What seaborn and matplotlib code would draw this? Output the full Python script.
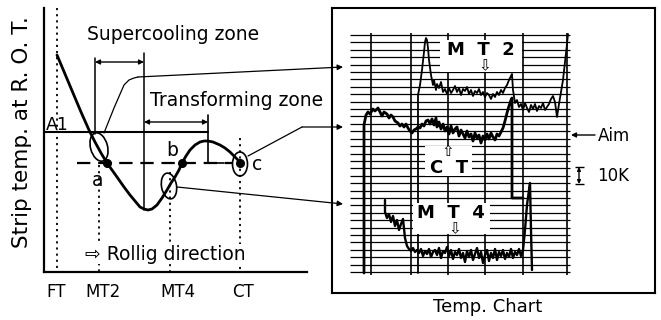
import numpy as np
import pandas as pd
import matplotlib
matplotlib.use("Agg")
import matplotlib.pyplot as plt
import seaborn as sns
from matplotlib.patches import Ellipse, Rectangle

# ------------------------------------------------------------------ data
# left schematic (units: horizontal = position along run-out table,
# vertical = drawing units, larger = lower temperature)
stations = ["FT", "MT2", "MT4", "CT"]
station_label_x = [56, 103, 178, 243]
station_line_x = [57, 99, 170, 240]
station_line_top = [8, 165, 172, 138]

curve_x = [57, 65, 73, 81, 89, 95, 101, 107, 112, 117, 124, 130, 135, 140, 144, 148,
           152, 157, 162, 167, 171, 175, 179, 182, 186, 190, 195, 200, 204, 208, 213,
           220, 225, 230, 235, 240]
curve_y = [55, 74, 93, 112, 130, 142, 153, 163, 170, 177, 187, 195, 201, 207, 209, 210,
           209, 205, 198, 190, 183, 177, 170, 163, 156, 150, 145, 142, 141, 141, 142,
           145, 148, 152, 157, 162]

point_names = ["a", "b", "c"]
point_x = [107, 182, 240]
point_y = [163, 163, 163]
a1_level = 132
aim_level = 163

# right: temperature chart traces
ct_x = [364, 364, 366, 368, 370, 373, 375, 378, 380, 382, 384, 387, 389, 391, 393, 395,
        398, 400, 402, 404, 406, 408, 410, 412, 414, 416, 418, 420, 422, 424, 426, 428,
        430, 432, 434, 436, 437, 439, 441, 443, 445, 447, 449, 451, 453, 455, 457, 459,
        461, 463, 465, 467, 469, 471, 473, 475, 477, 479, 481, 483, 485, 487, 489, 491,
        493, 495, 497, 499, 501, 503, 505, 507, 509, 511, 512, 512, 517, 523]
ct_y = [273, 125, 115, 112, 114, 109, 111, 108, 112, 116, 112, 114, 118, 115, 117, 121,
        123, 126, 124, 127, 124, 128, 131, 133, 130, 129, 127, 128, 124, 126, 121, 120,
        124, 119, 125, 118, 127, 122, 129, 124, 131, 127, 134, 126, 133, 129, 127, 136,
        130, 134, 138, 131, 137, 134, 141, 133, 138, 135, 143, 136, 140, 134, 139, 133,
        137, 140, 134, 136, 132, 128, 121, 113, 106, 100, 98, 198, 198, 198]

mt2_x = [418, 418, 420, 422, 424, 425, 426, 427, 428, 429, 431, 433, 434, 436, 437, 439,
         441, 443, 445, 447, 449, 451, 453, 455, 457, 459, 461, 463, 465, 467, 469, 471,
         473, 475, 477, 479, 481, 483, 485, 487, 489, 491, 493, 495, 497, 499, 501, 503,
         505, 507, 509, 511, 512, 513, 515, 517, 519, 521, 523, 525, 527, 529, 531, 533,
         535, 537, 539, 541, 543, 545, 547, 549, 551, 553, 555, 557, 559, 561, 563, 565,
         567, 568]
mt2_y = [273, 95, 85, 70, 52, 42, 38, 40, 48, 60, 75, 85, 80, 90, 84, 88,
         82, 92, 89, 94, 88, 93, 90, 86, 92, 88, 95, 89, 91, 87, 94, 90,
         96, 91, 93, 89, 95, 92, 97, 93, 95, 99, 94, 97, 92, 95, 90, 93,
         88, 85, 80, 76, 74, 90, 103, 100, 107, 104, 110, 103, 108, 112, 105, 109,
         104, 111, 106, 108, 103, 110, 107, 104, 99, 96, 102, 117, 104, 92, 80, 62,
         44, 34]

mt4_x = [385, 385, 387, 389, 391, 393, 395, 397, 399, 401, 403, 405, 407, 409, 411, 413,
         415, 417, 419, 421, 423, 425, 427, 429, 431, 433, 435, 437, 439, 441, 443, 445,
         447, 449, 451, 453, 455, 457, 459, 461, 463, 465, 467, 469, 471, 473, 475, 477,
         479, 481, 483, 485, 487, 489, 491, 493, 495, 497, 499, 501, 503, 505, 507, 509,
         511, 513, 515, 517, 519, 521, 523, 525, 527, 529, 530, 531, 532]
mt4_y = [200, 212, 218, 214, 222, 216, 226, 220, 230, 224, 219, 238, 246, 249, 251, 248,
         252, 250, 253, 249, 256, 251, 254, 249, 257, 252, 250, 255, 248, 258, 251, 253,
         247, 256, 250, 259, 252, 255, 249, 258, 253, 262, 251, 257, 250, 260, 254, 248,
         258, 252, 263, 255, 250, 261, 253, 258, 249, 260, 252, 256, 250, 259, 253, 257,
         249, 258, 252, 255, 249, 256, 250, 230, 205, 190, 183, 230, 270]

chart_grid_cols = [371, 411, 448, 485, 523, 567]
chart_grid_rows = 33   # number of horizontal recorder lines

assert len(ct_x) == len(ct_y)
assert len(mt2_x) == len(mt2_y)
assert len(mt4_x) == len(mt4_y)

# ------------------------------------------------------------------ style
sns.set_theme(style="white")
plt.rcParams["font.family"] = ["DejaVu Sans"]
K = "black"

W, H = 661, 320
fig = plt.figure(figsize=(W / 100, H / 100), dpi=100)
fig.patch.set_facecolor("white")


def rect(x0, y0, x1, y1):
    return [x0 / W, 1 - y1 / H, (x1 - x0) / W, (y1 - y0) / H]


# ------------------------------------------------------------------ left panel
ax1 = fig.add_axes(rect(44, 8, 307, 272))
ax1.set_xlim(44, 307)
ax1.set_ylim(272, 8)
ax1.set_facecolor("none")
for s in ["top", "right"]:
    ax1.spines[s].set_visible(False)
for s in ["left", "bottom"]:
    ax1.spines[s].set_color(K)
    ax1.spines[s].set_linewidth(1.6)
ax1.set_yticks([])
ax1.set_xticks(station_label_x)
ax1.set_xticklabels(stations, fontsize=12)
ax1.tick_params(axis="x", length=0, pad=8, colors=K)
ax1.set_ylabel("Strip temp. at R. O. T.", fontsize=15.5, color=K)
ax1.yaxis.set_label_coords(-0.045, 0.53)

# station dotted lines
for x, top in zip(station_line_x, station_line_top):
    ax1.plot([x, x], [top, 272], ls=(0, (1.2, 2.2)), lw=1.3, color=K)

# A1 line and zone brackets
ax1.plot([44, 208], [a1_level, a1_level], lw=1.5, color=K)
ax1.plot([208, 208, 224], [115, aim_level, aim_level], lw=1.2, color=K)
ax1.plot([77, 232], [aim_level, aim_level], ls=(0, (6, 3.5)), lw=1.6, color=K)
ax1.plot([95, 95], [58, 134], lw=1.1, color=K)
ax1.plot([144, 144], [53, 210], lw=1.1, color=K)
arr = dict(arrowstyle="<|-|>", color=K, lw=1.0, mutation_scale=7, shrinkA=0, shrinkB=0)
ax1.annotate("", xy=(144, 62), xytext=(95, 62), arrowprops=arr)
ax1.annotate("", xy=(208, 122), xytext=(144, 122), arrowprops=arr)

# temperature curve
sns.lineplot(x=curve_x, y=curve_y, sort=False, estimator=None, ax=ax1,
             color=K, lw=2.0)
ax1.plot(point_x, point_y, "o", color=K, ms=5.5)

# ellipses
for (cx, cy, w, h, ang) in [(99, 147, 17, 29, -15), (169, 186, 15, 26, -10), (240, 164, 15, 24, 0)]:
    ax1.add_patch(Ellipse((cx, cy), w, h, angle=ang, fill=False, ec=K, lw=1.2))

# texts
ax1.text(173, 35, "Supercooling zone", ha="center", va="center", fontsize=13.5, color=K)
ax1.text(237, 101, "Transforming zone", ha="center", va="center", fontsize=13.5,
         color=K, clip_on=False)
ax1.text(46, 130, "A1", ha="left", va="baseline", fontsize=12.5, color=K)
for name, (tx, ty) in zip(point_names, [(98, 180), (172, 151), (257, 165)]):
    ax1.text(tx, ty, name, ha="center", va="center", fontsize=13.5, color=K)
ax1.text(85, 254, "\u21e8 Rollig direction", ha="left", va="center", fontsize=13.5,
         color=K, zorder=5,
         bbox=dict(fc="white", ec="none", pad=0.3))

# ------------------------------------------------------------------ right panel
ax2 = fig.add_axes(rect(332, 8, 655, 293))
ax2.set_xlim(332, 655)
ax2.set_ylim(293, 8)
ax2.set_xticks([])
ax2.set_yticks([])
for s in ax2.spines.values():
    s.set_visible(True)
    s.set_color(K)
    s.set_linewidth(1.5)

rows = np.linspace(35, 272, chart_grid_rows)
ax2.hlines(rows, 350, 570, color=K, lw=0.9, zorder=1)
ax2.vlines(chart_grid_cols, 33, 275, color=K, lw=1.2, zorder=1)

sns.lineplot(x=mt2_x, y=mt2_y, sort=False, estimator=None, ax=ax2, color=K, lw=1.3, zorder=2)
sns.lineplot(x=ct_x, y=ct_y, sort=False, estimator=None, ax=ax2, color=K, lw=2.0, zorder=2)
sns.lineplot(x=mt4_x, y=mt4_y, sort=False, estimator=None, ax=ax2, color=K, lw=1.7, zorder=2)

# white label boxes on the chart
for (x0, y0, x1, y1) in [(440, 40, 522, 72), (425, 146, 472, 176), (413, 203, 490, 234)]:
    ax2.add_patch(Rectangle((x0, y0), x1 - x0, y1 - y0, fc="white", ec="none", zorder=3))

bold = dict(ha="center", va="center", fontsize=13, fontweight="bold", color=K, zorder=4)
ax2.text(481, 50, "M  T  2", **bold)
ax2.text(449, 168, "C  T", **bold)
ax2.text(451, 213, "M  T  4", **bold)
arrow_txt = dict(ha="center", va="center", fontsize=11, color=K, zorder=4)
ax2.text(485, 66, "\u21e9", **arrow_txt)
ax2.text(448, 152, "\u21e7", **arrow_txt)
ax2.text(455, 229, "\u21e9", **arrow_txt)

# Aim and 10K
ax2.annotate("", xy=(571, 135), xytext=(595, 135),
             arrowprops=dict(arrowstyle="-|>", color=K, lw=1.0, mutation_scale=7,
                             shrinkA=0, shrinkB=0))
ax2.text(598, 136, "Aim", ha="left", va="center", fontsize=12, color=K)
ax2.annotate("", xy=(579, 167), xytext=(579, 184),
             arrowprops=dict(arrowstyle="<|-|>", color=K, lw=1.0, mutation_scale=5,
                             shrinkA=0, shrinkB=0))
ax2.hlines([167, 184], 575, 584, color=K, lw=1.0)
ax2.text(597, 176, "10K", ha="left", va="center", fontsize=12, color=K)

ax2.text(488, 307, "Temp. Chart", ha="center", va="center", fontsize=13, color=K,
         clip_on=False)

# ------------------------------------------------------------------ connectors
ov = fig.add_axes([0, 0, 1, 1])
ov.set_xlim(0, W)
ov.set_ylim(H, 0)
ov.axis("off")
ov.patch.set_visible(False)
conn = dict(arrowstyle="-|>", color=K, lw=0.9, mutation_scale=8, shrinkA=0, shrinkB=0)
ov.plot([104, 114, 124, 129, 134, 138], [133, 108, 85, 80, 78, 77], color=K, lw=0.9)
ov.annotate("", xy=(343, 67), xytext=(138, 77), arrowprops=conn)
ov.plot([248, 302], [156, 127], color=K, lw=0.9)
ov.annotate("", xy=(343, 127), xytext=(302, 127), arrowprops=conn)
ov.annotate("", xy=(343, 204), xytext=(177, 187), arrowprops=conn)

fig.savefig("out.png", dpi=100)
